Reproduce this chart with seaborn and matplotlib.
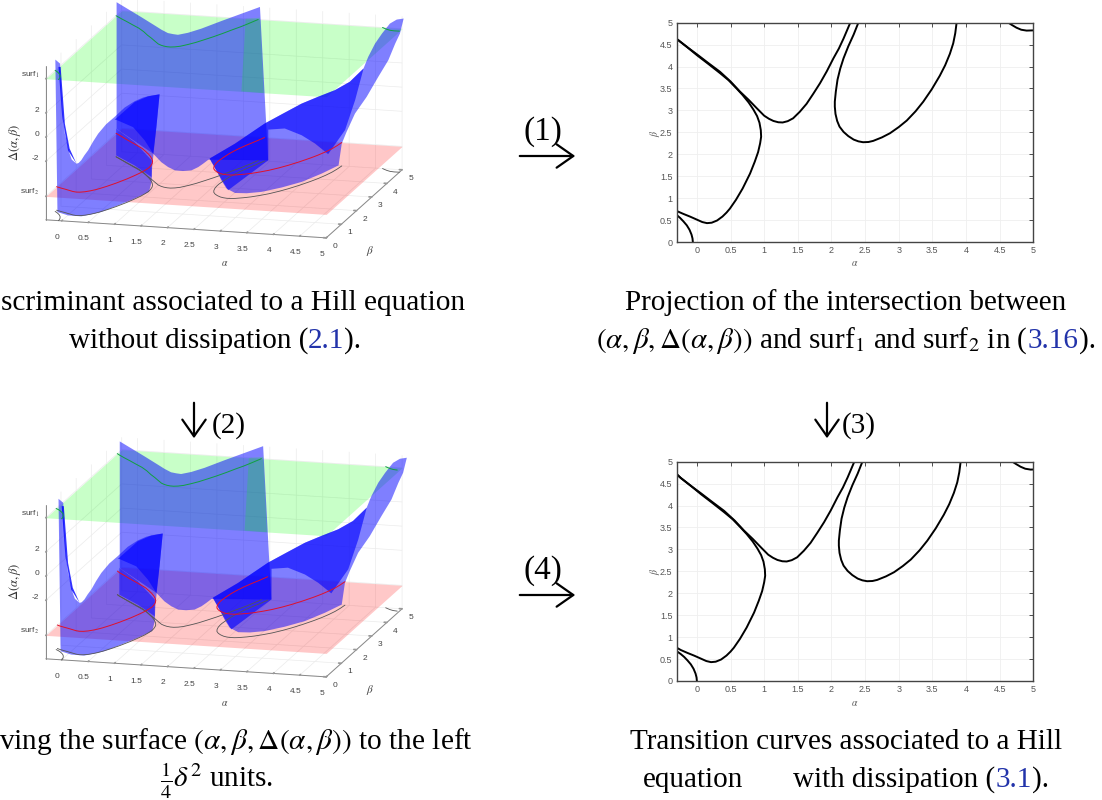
import numpy as np
import pandas as pd
import matplotlib
matplotlib.use("Agg")
import matplotlib.pyplot as plt
import seaborn as sns
from mpl_toolkits.mplot3d.art3d import Poly3DCollection

# --- transition curves ---
curve_a_alpha = [-.36, -.3, -.2, -.1, 0, .08, .15, .22, .3, .38, .44, .49, .58, .68, .79, .86, .91, .94, .955, .95, .93, .895, .84, .77, .68, .59, .47, .344, .17, 0, -.15, -.3, -.36]
curve_a_beta = [.76, .707, .64, .578, .51, .455, .43, .44, .49, .58, .67, .76, .96, 1.22, 1.56, 1.83, 2.05, 2.25, 2.4, 2.55, 2.72, 2.87, 3.02, 3.18, 3.35, 3.5, 3.69, 3.85, 4.06, 4.26, 4.45, 4.63, 4.72]
curve_b_alpha = [-.36, -.3, -.15, 0, .17, .344, .5, .64, .77, .89, 1.0, 1.07, 1.137, 1.21, 1.275, 1.35, 1.43, 1.53, 1.63, 1.73, 1.83, 1.93, 2.03, 2.11, 2.18, 2.28]
curve_b_beta = [4.71, 4.63, 4.45, 4.28, 4.08, 3.88, 3.66, 3.43, 3.24, 3.05, 2.88, 2.81, 2.76, 2.73, 2.725, 2.755, 2.82, 2.97, 3.15, 3.38, 3.62, 3.89, 4.19, 4.41, 4.64, 5.0]
curve_c_alpha = [2.40, 2.33, 2.25, 2.18, 2.13, 2.09, 2.065, 2.05, 2.05, 2.06, 2.085, 2.12, 2.18, 2.25, 2.33, 2.4, 2.47, 2.55, 2.62, 2.75, 2.87, 3.0, 3.12, 3.25, 3.365, 3.49, 3.61, 3.69, 3.76, 3.81, 3.84, 3.86]
curve_c_beta = [5, 4.73, 4.46, 4.19, 3.95, 3.7, 3.43, 3.2, 3.085, 2.92, 2.76, 2.63, 2.51, 2.415, 2.335, 2.295, 2.275, 2.28, 2.305, 2.385, 2.48, 2.62, 2.77, 2.98, 3.2, 3.48, 3.79, 4.03, 4.29, 4.53, 4.76, 5]
curve_d_alpha = [-.36, -.3, -.25, -.2, -.15, -.11, -.08, -.065, -.06]
curve_d_beta = [.68, .615, .55, .47, .38, .28, .17, .08, 0]
curve_e_alpha = [4.63, 4.68, 4.75, 4.82, 4.9, 5]
curve_e_beta = [5, 4.95, 4.886, 4.84, 4.82, 4.825]

# lower row is the same thing moved by delta^2 / 4
dissipation_shift = 0.06

surf_1 = 4.83
surf_2 = -4.9
delta_floor = -6.84
delta_top = 5.86

# --- pieces of the blue surface (alpha, beta, Delta) ---
back_alpha = [-.3, .17, .42, .55, .67, .77, .86, 1.05, 1.30, 1.68, 2.41, 2.86, 1.73, 1.63, 1.54, 1.41, 1.25, 1.10, .97, .84, .69, -.3]
back_beta = [4.63] * 11 + [3.6] * 10 + [4.63]
back_delta = [5.99, 4.88, 4.27, 3.95, 3.71, 3.65, 3.62, 3.84, 4.25, 4.99, 6.36, -5.04, -5.31, -5.67, -5.97, -6.28, -6.38, -6.37, -6.13, -5.76, -5.11, -4.49]

band_alpha = [2.14, 2.41, 2.48, 2.06]
band_beta = [4.63, 4.63, 4.63, 4.63]
band_delta = [5.31, 5.47, -.74, -.72]

left_alpha = [-.33, -.24, -.23, -.19, -.15, -.09, -.06, -.02, .07, .11, .16, .22, .29, .38, .48, .63, .79, .98, 1.17, 1.33, 1.42, 1.64, 1.61, 1.58, 1.54, 1.50, 1.49, 1.44, 1.14, .86, .54, .35, .16, -.09, -.29]
left_beta = [.7] * 35
left_delta = [5.66, 5.35, 3.97, .95, -.42, -1.5, -2.05, -2.53, -2.84, -2.77, -2.53, -2.1, -1.67, -.95, -.24, .58, 1.23, 2.06, 2.64, 2.99, 3.12, 3.35, 2.02, .63, -1.01, -2.7, -3.95, -4.79, -5.48, -6.06, -6.7, -6.95, -7.17, -7.16, -6.94]

spike_alpha = [-.27, -.23, -.15, -.06, .07, -.09, -.2]
spike_beta = [.7] * 7
spike_delta = [5.07, 5.08, .41, -1.63, -2.84, -1.78, .95]

fold_alpha = [.13, .51, .76, .98, .92, .86, .70, .48, .16]
fold_beta = [3] * 9
fold_delta = [-1.78, -.21, .33, .56, -2.16, -4.38, -3.33, -2.29, -1.77]

fold_low_alpha = [.16, .51, .83, .83, .51, .16]
fold_low_beta = [3] * 6
fold_low_delta = [-2.51, -3.52, -4.94, -6.32, -5.45, -4.72]

right_alpha = [2.07, 2.55, 2.83, 3.11, 3.46, 3.81, 4.12, 4.44, 4.72, 4.26, 4.35, 4.48, 4.61, 4.76, 4.89, 5.02, 4.95, 4.86, 4.73, 4.54, 4.32, 4.1, 3.94, 3.85, 3.79, 4.19, 3.81, 3.43, 3.05, 2.77, 2.55, 2.39, 2.29, 2.23, 2.15]
right_beta = [2.5] * 9 + [5] * 16 + [2.5] * 10
right_delta = [-3.88, -2.51, -1.6, -.69, .24, 1.16, 1.81, 2.45, 3.22, 1.36, 2.36, 3.5, 4.36, 5.23, 5.6, 5.72, 4.46, 3.6, 2.19, .76, -.96, -2.4, -3.97, -4.96, -6.77, -4.52, -5.32, -5.89, -6.36, -6.55, -6.59, -6.27, -5.61, -5.08, -4.47]

ridge_alpha = [2.07, 2.55, 2.83, 3.11, 3.46, 3.81, 4.12, 4.44, 4.72, 4.98, 4.82, 4.63, 4.31, 4.06, 3.81, 3.49, 3.18, 3.18, 2.42, 2.23]
ridge_beta = [2.5] * 20
ridge_delta = [-3.88, -2.51, -1.6, -.69, .24, 1.16, 1.81, 2.45, 3.22, 4.4, 1.73, -.8, -2.88, -2.07, -1.46, -.99, -1.17, -3.7, -6.4, -5.08]

alpha_ticks = [0, .5, 1, 1.5, 2, 2.5, 3, 3.5, 4, 4.5, 5]
alpha_labels = ['0', '0.5', '1', '1.5', '2', '2.5', '3', '3.5', '4', '4.5', '5']
beta_ticks_3d = [0, 1, 2, 3, 4, 5]
beta_ticks_2d = [0, .5, 1, 1.5, 2, 2.5, 3, 3.5, 4, 4.5, 5]
delta_ticks = [surf_2, -2, 0, 2, surf_1]
delta_labels = ['surf$_2$', '-2', '0', '2', 'surf$_1$']

sns.set_theme(style="white")
plt.rcParams['font.family'] = ['Liberation Serif', 'DejaVu Serif']
plt.rcParams['mathtext.fontset'] = 'stix'
TICK_FONT = 'Liberation Sans'
W, H = 1102, 800
fig = plt.figure(figsize=(W / 100, H / 100), dpi=100, facecolor='white')


def fx(px):
    return px / W


def fy(py):
    return 1 - py / H


def poly(ax, xs, ys, zs, color, a, z, shift=0):
    verts = [list(zip(np.array(xs) + shift, ys, zs))]
    p = Poly3DCollection(verts, facecolors=[matplotlib.colors.to_rgba(color, a)], linewidths=0)
    p.set_zorder(z)
    ax.add_collection3d(p)


def surface_panel(cy, shift):
    cy3d = cy + 6
    ax = fig.add_axes([fx(218 - 220), fy(cy3d + 220), 440 / W, 440 / H], projection='3d', proj_type='ortho')
    ax.set_facecolor('none')
    ax.computed_zorder = False
    ax.view_init(elev=13.9, azim=-75)
    ax.set_box_aspect((290, 293, 158), zoom=0.975)
    ax.set_xlim(-.3, 5)
    ax.set_ylim(0, 5)
    ax.set_zlim(delta_floor, delta_top)

    for axis in (ax.xaxis, ax.yaxis, ax.zaxis):
        axis.set_pane_color((1, 1, 1, 0))
        axis._axinfo['grid']['color'] = (.92, .92, .92, 1)
        axis._axinfo['grid']['linewidth'] = .5
        axis._axinfo['tick']['inward_factor'] = 0
        axis._axinfo['tick']['outward_factor'] = .12
        axis.line.set_color('#888888')
        axis.line.set_linewidth(.7)
    ax.set_xticks(alpha_ticks, alpha_labels, fontsize=6, color='#444444', family=TICK_FONT)
    ax.set_yticks(beta_ticks_3d, [str(b) for b in beta_ticks_3d], fontsize=6, color='#444444', family=TICK_FONT)
    ax.set_zticks(delta_ticks, delta_labels, fontsize=6, color='#444444', family=TICK_FONT)
    ax.zaxis.set_ticks_position('lower')
    ax.tick_params(axis='x', pad=1.5, color='#999999', width=.5)
    ax.tick_params(axis='y', pad=-3, color='#999999', width=.5)
    ax.tick_params(axis='z', pad=-5, color='#999999', width=.5)
    for t in ax.zaxis.get_majorticklabels():
        t.set_ha('right')
        t.set_va('bottom')

    # planes
    plane_a = [-.3, 5, 5, -.3]
    plane_b = [0, 0, 5, 5]
    poly(ax, plane_a, plane_b, [surf_1] * 4, (0, 1, 0), .216, 1)
    poly(ax, plane_a, plane_b, [surf_2] * 4, (1, 0, 0), .216, 2)

    # surface, translucent pieces on top of each other
    poly(ax, back_alpha, back_beta, back_delta, (0, 0, 1), .5, 3, shift)
    poly(ax, band_alpha, band_beta, band_delta, (0, 1, 0), .2, 4, shift)
    poly(ax, left_alpha, left_beta, left_delta, (0, 0, 1), .5, 5, shift)
    poly(ax, spike_alpha, spike_beta, spike_delta, (0, 0, 1), .8, 6, shift)
    poly(ax, fold_alpha, fold_beta, fold_delta, (0, 0, 1), .6, 7, shift)
    poly(ax, fold_low_alpha, fold_low_beta, fold_low_delta, (0, 0, 1), .5, 7, shift)
    poly(ax, right_alpha, right_beta, right_delta, (0, 0, 1), .5, 8, shift)
    poly(ax, ridge_alpha, ridge_beta, ridge_delta, (0, 0, 1), .6, 9, shift)

    # intersections on the planes and their shadows on the floor
    curves = {'a': (curve_a_alpha, curve_a_beta, surf_2, '#e0102a'),
              'b': (curve_b_alpha, curve_b_beta, surf_1, '#10a040'),
              'c': (curve_c_alpha, curve_c_beta, surf_2, '#e0102a'),
              'd': (curve_d_alpha, curve_d_beta, surf_1, '#10a040'),
              'e': (curve_e_alpha, curve_e_beta, surf_1, '#10a040')}
    for xs, ys, level, col in curves.values():
        xs = np.array(xs) + shift
        ys = np.array(ys)
        keep = (xs >= -.3) & (xs <= 5)
        ax.plot(xs[keep], ys[keep], [level] * keep.sum(), color=col, lw=.7, zorder=11)
        ax.plot(xs[keep], ys[keep], [delta_floor] * keep.sum(), color='#555555', lw=.6, zorder=10)

    fig.text(fx(225), fy(cy + 146), r'$\alpha$', fontsize=7, color='#444444', ha='center', va='center')
    fig.text(fx(370), fy(cy + 133), r'$\beta$', fontsize=8, color='#444444', ha='center', va='center')
    fig.text(fx(15), fy(cy + 25), r'$\Delta(\alpha,\beta)$', fontsize=9, color='#333333', rotation=90, ha='center', va='center')
    return ax


def contour_panel(top, bottom, shift, label_y):
    ax = fig.add_axes([fx(676.7), fy(bottom), (1033.3 - 676.7) / W, (bottom - top) / H])
    ax.set_facecolor('white')
    frames = []
    for name, (xs, ys) in {'a': (curve_a_alpha, curve_a_beta), 'b': (curve_b_alpha, curve_b_beta),
                           'c': (curve_c_alpha, curve_c_beta), 'd': (curve_d_alpha, curve_d_beta),
                           'e': (curve_e_alpha, curve_e_beta)}.items():
        frames.append(pd.DataFrame({'alpha': np.array(xs) + shift, 'beta': ys, 'curve': name}))
    df = pd.concat(frames)
    sns.lineplot(data=df, x='alpha', y='beta', units='curve', estimator=None, sort=False,
                 color='black', linewidth=1.4, ax=ax)
    ax.set_xlim(-.3, 5)
    ax.set_ylim(0, 5)
    ax.set_xticks(alpha_ticks, alpha_labels, family=TICK_FONT)
    ax.set_yticks(beta_ticks_2d, alpha_labels, family=TICK_FONT)
    ax.grid(True, color='#efefef', linewidth=.6)
    ax.tick_params(direction='in', top=True, right=True, length=3, width=.6, color='#333333',
                   labelsize=6.5, labelcolor='#555555', pad=3)
    for sp in ax.spines.values():
        sp.set_visible(True)
        sp.set_color('#444444')
        sp.set_linewidth(1.0)
    ax.set_xlabel('')
    ax.set_ylabel('')
    fig.text(fx(854.5), fy(bottom + 22), r'$\alpha$', fontsize=7, color='#555555', ha='center', va='center')
    fig.text(fx(655), fy(label_y), r'$\beta$', fontsize=7, color='#555555', rotation=90, ha='center', va='center')
    return ax


BLUE = '#2233aa'
CAP = 21


def caption(py, runs, cx=None, right=None, left=None, size=CAP):
    # place coloured runs one after another on a line
    rend = fig.canvas.get_renderer()
    pieces = []
    total = 0
    for s, col in runs:
        t = fig.text(0, fy(py), s, fontsize=size, color=col, ha='left', va='baseline')
        w = t.get_window_extent(rend).width
        pieces.append((t, w))
        total += w
    if cx is not None:
        x = cx - total / 2
    elif right is not None:
        x = right - total
    else:
        x = left
    for t, w in pieces:
        t.set_x(fx(x))
        x += w


surface_panel(118, 0)
surface_panel(557, dissipation_shift)
contour_panel(22.7, 242, 0, 133)
contour_panel(461.7, 681, dissipation_shift, 571)

K = 'black'
caption(310, [('scriminant associated to a Hill equation', K)], right=465, size=21.2)
caption(348, [('without dissipation (', K), ('2.1', BLUE), (').', K)], cx=215)
caption(310, [('Projection of the intersection between', K)], cx=846)
caption(348, [(r'$(\alpha,\beta,\Delta(\alpha,\beta))$ and surf$_1$ and surf$_2$ in (', K), ('3.16', BLUE), (').', K)], cx=846)
caption(749, [(r'ving the surface $(\alpha,\beta,\Delta(\alpha,\beta))$ to the left', K)], right=473, size=21.2)
caption(787, [(r'$\frac{1}{4}\delta^2$ units.', K)], cx=217)
caption(749, [('Transition curves associated to a Hill', K)], cx=846)
caption(787, [('equation', K)], left=643)
caption(787, [('with dissipation (', K), ('3.1', BLUE), (').', K)], left=793)

# arrows between the panels
for label, y in (('(1)', 156), ('(4)', 595)):
    fig.text(fx(543), fy(y - 16), label, fontsize=24, color='black', ha='center', va='baseline')
    fig.add_artist(matplotlib.patches.FancyArrowPatch((fx(517), fy(y)), (fx(578), fy(y)), transform=fig.transFigure,
                   arrowstyle='->,head_length=5,head_width=3.5', mutation_scale=2.4, lw=1.6, color='black'))
for label, x, off in (('(2)', 194, 18), ('(3)', 827, 15)):
    fig.add_artist(matplotlib.patches.FancyArrowPatch((fx(x), fy(400)), (fx(x), fy(441)), transform=fig.transFigure,
                   arrowstyle='->,head_length=5,head_width=3.5', mutation_scale=2.4, lw=1.6, color='black'))
    fig.text(fx(x + off), fy(433), label, fontsize=21, color='black', ha='left', va='baseline')

fig.savefig('out.png', dpi=100)
